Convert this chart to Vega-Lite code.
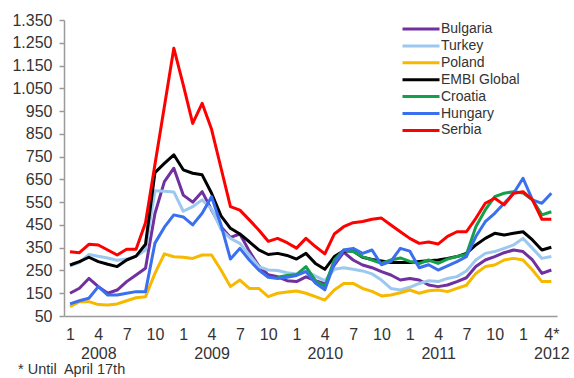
{
  "$schema": "https://vega.github.io/schema/vega-lite/v6.json",
  "width": 493,
  "height": 296,
  "autosize": {"type": "none"},
  "padding": {"left": 64, "top": 20, "right": 17, "bottom": 62},
  "background": "white",
  "config": {"view": {"stroke": null}, "font": "Liberation Sans"},
  "title": {"text": "* Until\u00a0 April 17th", "orient": "bottom", "anchor": "start", "frame": "group", "dx": -46, "offset": 2, "fontSize": 14.5, "fontWeight": "normal", "color": "#333333"},
  "datasets": {
    "spreads": [
      {"m":0,"s":"Bulgaria","v":150},{"m":1,"s":"Bulgaria","v":172},{"m":2,"s":"Bulgaria","v":215},{"m":3,"s":"Bulgaria","v":179},{"m":4,"s":"Bulgaria","v":150},{"m":5,"s":"Bulgaria","v":164},{"m":6,"s":"Bulgaria","v":201},{"m":7,"s":"Bulgaria","v":230},{"m":8,"s":"Bulgaria","v":260},{"m":9,"s":"Bulgaria","v":500},{"m":10,"s":"Bulgaria","v":640},{"m":11,"s":"Bulgaria","v":699},{"m":12,"s":"Bulgaria","v":581},{"m":13,"s":"Bulgaria","v":550},{"m":14,"s":"Bulgaria","v":596},{"m":15,"s":"Bulgaria","v":516},{"m":16,"s":"Bulgaria","v":442},{"m":17,"s":"Bulgaria","v":395},{"m":18,"s":"Bulgaria","v":410},{"m":19,"s":"Bulgaria","v":335},{"m":20,"s":"Bulgaria","v":270},{"m":21,"s":"Bulgaria","v":231},{"m":22,"s":"Bulgaria","v":222},{"m":23,"s":"Bulgaria","v":205},{"m":24,"s":"Bulgaria","v":201},{"m":25,"s":"Bulgaria","v":222},{"m":26,"s":"Bulgaria","v":205},{"m":27,"s":"Bulgaria","v":192},{"m":28,"s":"Bulgaria","v":274},{"m":29,"s":"Bulgaria","v":330},{"m":30,"s":"Bulgaria","v":296},{"m":31,"s":"Bulgaria","v":274},{"m":32,"s":"Bulgaria","v":262},{"m":33,"s":"Bulgaria","v":245},{"m":34,"s":"Bulgaria","v":230},{"m":35,"s":"Bulgaria","v":208},{"m":36,"s":"Bulgaria","v":215},{"m":37,"s":"Bulgaria","v":208},{"m":38,"s":"Bulgaria","v":186},{"m":39,"s":"Bulgaria","v":179},{"m":40,"s":"Bulgaria","v":186},{"m":41,"s":"Bulgaria","v":201},{"m":42,"s":"Bulgaria","v":218},{"m":43,"s":"Bulgaria","v":267},{"m":44,"s":"Bulgaria","v":296},{"m":45,"s":"Bulgaria","v":311},{"m":46,"s":"Bulgaria","v":328},{"m":47,"s":"Bulgaria","v":340},{"m":48,"s":"Bulgaria","v":333},{"m":49,"s":"Bulgaria","v":296},{"m":50,"s":"Bulgaria","v":237},{"m":51,"s":"Bulgaria","v":252},
      {"m":0,"s":"Turkey","v":270},{"m":1,"s":"Turkey","v":285},{"m":2,"s":"Turkey","v":320},{"m":3,"s":"Turkey","v":312},{"m":4,"s":"Turkey","v":305},{"m":5,"s":"Turkey","v":295},{"m":6,"s":"Turkey","v":300},{"m":7,"s":"Turkey","v":312},{"m":8,"s":"Turkey","v":340},{"m":9,"s":"Turkey","v":600},{"m":10,"s":"Turkey","v":598},{"m":11,"s":"Turkey","v":595},{"m":12,"s":"Turkey","v":510},{"m":13,"s":"Turkey","v":530},{"m":14,"s":"Turkey","v":560},{"m":15,"s":"Turkey","v":520},{"m":16,"s":"Turkey","v":430},{"m":17,"s":"Turkey","v":391},{"m":18,"s":"Turkey","v":369},{"m":19,"s":"Turkey","v":318},{"m":20,"s":"Turkey","v":267},{"m":21,"s":"Turkey","v":252},{"m":22,"s":"Turkey","v":250},{"m":23,"s":"Turkey","v":240},{"m":24,"s":"Turkey","v":235},{"m":25,"s":"Turkey","v":248},{"m":26,"s":"Turkey","v":225},{"m":27,"s":"Turkey","v":205},{"m":28,"s":"Turkey","v":255},{"m":29,"s":"Turkey","v":262},{"m":30,"s":"Turkey","v":255},{"m":31,"s":"Turkey","v":248},{"m":32,"s":"Turkey","v":235},{"m":33,"s":"Turkey","v":208},{"m":34,"s":"Turkey","v":171},{"m":35,"s":"Turkey","v":164},{"m":36,"s":"Turkey","v":176},{"m":37,"s":"Turkey","v":193},{"m":38,"s":"Turkey","v":205},{"m":39,"s":"Turkey","v":201},{"m":40,"s":"Turkey","v":215},{"m":41,"s":"Turkey","v":223},{"m":42,"s":"Turkey","v":248},{"m":43,"s":"Turkey","v":296},{"m":44,"s":"Turkey","v":325},{"m":45,"s":"Turkey","v":333},{"m":46,"s":"Turkey","v":347},{"m":47,"s":"Turkey","v":362},{"m":48,"s":"Turkey","v":391},{"m":49,"s":"Turkey","v":347},{"m":50,"s":"Turkey","v":303},{"m":51,"s":"Turkey","v":311},
      {"m":0,"s":"Poland","v":91},{"m":1,"s":"Poland","v":113},{"m":2,"s":"Poland","v":113},{"m":3,"s":"Poland","v":100},{"m":4,"s":"Poland","v":98},{"m":5,"s":"Poland","v":103},{"m":6,"s":"Poland","v":117},{"m":7,"s":"Poland","v":130},{"m":8,"s":"Poland","v":135},{"m":9,"s":"Poland","v":237},{"m":10,"s":"Poland","v":323},{"m":11,"s":"Poland","v":310},{"m":12,"s":"Poland","v":308},{"m":13,"s":"Poland","v":303},{"m":14,"s":"Poland","v":318},{"m":15,"s":"Poland","v":318},{"m":16,"s":"Poland","v":252},{"m":17,"s":"Poland","v":179},{"m":18,"s":"Poland","v":208},{"m":19,"s":"Poland","v":171},{"m":20,"s":"Poland","v":171},{"m":21,"s":"Poland","v":135},{"m":22,"s":"Poland","v":150},{"m":23,"s":"Poland","v":155},{"m":24,"s":"Poland","v":160},{"m":25,"s":"Poland","v":150},{"m":26,"s":"Poland","v":135},{"m":27,"s":"Poland","v":120},{"m":28,"s":"Poland","v":164},{"m":29,"s":"Poland","v":193},{"m":30,"s":"Poland","v":193},{"m":31,"s":"Poland","v":171},{"m":32,"s":"Poland","v":158},{"m":33,"s":"Poland","v":138},{"m":34,"s":"Poland","v":142},{"m":35,"s":"Poland","v":152},{"m":36,"s":"Poland","v":164},{"m":37,"s":"Poland","v":150},{"m":38,"s":"Poland","v":161},{"m":39,"s":"Poland","v":164},{"m":40,"s":"Poland","v":157},{"m":41,"s":"Poland","v":171},{"m":42,"s":"Poland","v":185},{"m":43,"s":"Poland","v":237},{"m":44,"s":"Poland","v":267},{"m":45,"s":"Poland","v":274},{"m":46,"s":"Poland","v":296},{"m":47,"s":"Poland","v":303},{"m":48,"s":"Poland","v":296},{"m":49,"s":"Poland","v":252},{"m":50,"s":"Poland","v":201},{"m":51,"s":"Poland","v":201},
      {"m":0,"s":"EMBI Global","v":274},{"m":1,"s":"EMBI Global","v":289},{"m":2,"s":"EMBI Global","v":308},{"m":3,"s":"EMBI Global","v":289},{"m":4,"s":"EMBI Global","v":277},{"m":5,"s":"EMBI Global","v":267},{"m":6,"s":"EMBI Global","v":296},{"m":7,"s":"EMBI Global","v":313},{"m":8,"s":"EMBI Global","v":365},{"m":9,"s":"EMBI Global","v":680},{"m":10,"s":"EMBI Global","v":720},{"m":11,"s":"EMBI Global","v":758},{"m":12,"s":"EMBI Global","v":692},{"m":13,"s":"EMBI Global","v":677},{"m":14,"s":"EMBI Global","v":670},{"m":15,"s":"EMBI Global","v":589},{"m":16,"s":"EMBI Global","v":490},{"m":17,"s":"EMBI Global","v":435},{"m":18,"s":"EMBI Global","v":410},{"m":19,"s":"EMBI Global","v":376},{"m":20,"s":"EMBI Global","v":340},{"m":21,"s":"EMBI Global","v":320},{"m":22,"s":"EMBI Global","v":325},{"m":23,"s":"EMBI Global","v":316},{"m":24,"s":"EMBI Global","v":300},{"m":25,"s":"EMBI Global","v":325},{"m":26,"s":"EMBI Global","v":281},{"m":27,"s":"EMBI Global","v":255},{"m":28,"s":"EMBI Global","v":311},{"m":29,"s":"EMBI Global","v":336},{"m":30,"s":"EMBI Global","v":335},{"m":31,"s":"EMBI Global","v":308},{"m":32,"s":"EMBI Global","v":298},{"m":33,"s":"EMBI Global","v":292},{"m":34,"s":"EMBI Global","v":285},{"m":35,"s":"EMBI Global","v":285},{"m":36,"s":"EMBI Global","v":285},{"m":37,"s":"EMBI Global","v":289},{"m":38,"s":"EMBI Global","v":293},{"m":39,"s":"EMBI Global","v":296},{"m":40,"s":"EMBI Global","v":303},{"m":41,"s":"EMBI Global","v":311},{"m":42,"s":"EMBI Global","v":325},{"m":43,"s":"EMBI Global","v":362},{"m":44,"s":"EMBI Global","v":391},{"m":45,"s":"EMBI Global","v":413},{"m":46,"s":"EMBI Global","v":406},{"m":47,"s":"EMBI Global","v":413},{"m":48,"s":"EMBI Global","v":420},{"m":49,"s":"EMBI Global","v":384},{"m":50,"s":"EMBI Global","v":340},{"m":51,"s":"EMBI Global","v":352},
      {"m":22,"s":"Croatia","v":220},{"m":23,"s":"Croatia","v":228},{"m":24,"s":"Croatia","v":232},{"m":25,"s":"Croatia","v":267},{"m":26,"s":"Croatia","v":205},{"m":27,"s":"Croatia","v":180},{"m":28,"s":"Croatia","v":296},{"m":29,"s":"Croatia","v":340},{"m":30,"s":"Croatia","v":333},{"m":31,"s":"Croatia","v":310},{"m":32,"s":"Croatia","v":296},{"m":33,"s":"Croatia","v":281},{"m":34,"s":"Croatia","v":296},{"m":35,"s":"Croatia","v":305},{"m":36,"s":"Croatia","v":290},{"m":37,"s":"Croatia","v":280},{"m":38,"s":"Croatia","v":296},{"m":39,"s":"Croatia","v":281},{"m":40,"s":"Croatia","v":300},{"m":41,"s":"Croatia","v":311},{"m":42,"s":"Croatia","v":320},{"m":43,"s":"Croatia","v":442},{"m":44,"s":"Croatia","v":516},{"m":45,"s":"Croatia","v":574},{"m":46,"s":"Croatia","v":589},{"m":47,"s":"Croatia","v":596},{"m":48,"s":"Croatia","v":590},{"m":49,"s":"Croatia","v":560},{"m":50,"s":"Croatia","v":494},{"m":51,"s":"Croatia","v":508},
      {"m":0,"s":"Hungary","v":103},{"m":1,"s":"Hungary","v":117},{"m":2,"s":"Hungary","v":128},{"m":3,"s":"Hungary","v":179},{"m":4,"s":"Hungary","v":142},{"m":5,"s":"Hungary","v":142},{"m":6,"s":"Hungary","v":150},{"m":7,"s":"Hungary","v":157},{"m":8,"s":"Hungary","v":157},{"m":9,"s":"Hungary","v":370},{"m":10,"s":"Hungary","v":440},{"m":11,"s":"Hungary","v":494},{"m":12,"s":"Hungary","v":485},{"m":13,"s":"Hungary","v":450},{"m":14,"s":"Hungary","v":501},{"m":15,"s":"Hungary","v":574},{"m":16,"s":"Hungary","v":450},{"m":17,"s":"Hungary","v":300},{"m":18,"s":"Hungary","v":347},{"m":19,"s":"Hungary","v":296},{"m":20,"s":"Hungary","v":252},{"m":21,"s":"Hungary","v":220},{"m":22,"s":"Hungary","v":215},{"m":23,"s":"Hungary","v":220},{"m":24,"s":"Hungary","v":228},{"m":25,"s":"Hungary","v":245},{"m":26,"s":"Hungary","v":195},{"m":27,"s":"Hungary","v":165},{"m":28,"s":"Hungary","v":281},{"m":29,"s":"Hungary","v":340},{"m":30,"s":"Hungary","v":347},{"m":31,"s":"Hungary","v":325},{"m":32,"s":"Hungary","v":340},{"m":33,"s":"Hungary","v":275},{"m":34,"s":"Hungary","v":290},{"m":35,"s":"Hungary","v":347},{"m":36,"s":"Hungary","v":335},{"m":37,"s":"Hungary","v":262},{"m":38,"s":"Hungary","v":275},{"m":39,"s":"Hungary","v":252},{"m":40,"s":"Hungary","v":270},{"m":41,"s":"Hungary","v":289},{"m":42,"s":"Hungary","v":311},{"m":43,"s":"Hungary","v":399},{"m":44,"s":"Hungary","v":464},{"m":45,"s":"Hungary","v":501},{"m":46,"s":"Hungary","v":545},{"m":47,"s":"Hungary","v":589},{"m":48,"s":"Hungary","v":655},{"m":49,"s":"Hungary","v":560},{"m":50,"s":"Hungary","v":545},{"m":51,"s":"Hungary","v":589},
      {"m":0,"s":"Serbia","v":332},{"m":1,"s":"Serbia","v":328},{"m":2,"s":"Serbia","v":365},{"m":3,"s":"Serbia","v":362},{"m":4,"s":"Serbia","v":340},{"m":5,"s":"Serbia","v":318},{"m":6,"s":"Serbia","v":343},{"m":7,"s":"Serbia","v":343},{"m":8,"s":"Serbia","v":460},{"m":9,"s":"Serbia","v":715},{"m":10,"s":"Serbia","v":970},{"m":11,"s":"Serbia","v":1226},{"m":12,"s":"Serbia","v":1065},{"m":13,"s":"Serbia","v":896},{"m":14,"s":"Serbia","v":984},{"m":15,"s":"Serbia","v":870},{"m":16,"s":"Serbia","v":700},{"m":17,"s":"Serbia","v":530},{"m":18,"s":"Serbia","v":515},{"m":19,"s":"Serbia","v":472},{"m":20,"s":"Serbia","v":428},{"m":21,"s":"Serbia","v":378},{"m":22,"s":"Serbia","v":391},{"m":23,"s":"Serbia","v":372},{"m":24,"s":"Serbia","v":348},{"m":25,"s":"Serbia","v":391},{"m":26,"s":"Serbia","v":355},{"m":27,"s":"Serbia","v":323},{"m":28,"s":"Serbia","v":410},{"m":29,"s":"Serbia","v":442},{"m":30,"s":"Serbia","v":460},{"m":31,"s":"Serbia","v":465},{"m":32,"s":"Serbia","v":475},{"m":33,"s":"Serbia","v":480},{"m":34,"s":"Serbia","v":450},{"m":35,"s":"Serbia","v":420},{"m":36,"s":"Serbia","v":391},{"m":37,"s":"Serbia","v":369},{"m":38,"s":"Serbia","v":375},{"m":39,"s":"Serbia","v":366},{"m":40,"s":"Serbia","v":400},{"m":41,"s":"Serbia","v":420},{"m":42,"s":"Serbia","v":420},{"m":43,"s":"Serbia","v":479},{"m":44,"s":"Serbia","v":545},{"m":45,"s":"Serbia","v":567},{"m":46,"s":"Serbia","v":538},{"m":47,"s":"Serbia","v":589},{"m":48,"s":"Serbia","v":596},{"m":49,"s":"Serbia","v":560},{"m":50,"s":"Serbia","v":475},{"m":51,"s":"Serbia","v":475}
    ]
  },
  "data": {"name": "spreads"},
  "mark": {"type": "line", "strokeJoin": "round"},
  "encoding": {
    "x": {
      "field": "m",
      "type": "quantitative",
      "scale": {"domain": [-0.636, 51.6], "nice": false, "zero": false},
      "axis": {
        "title": null,
        "values": [0, 3, 6, 9, 12, 15, 18, 21, 24, 27, 30, 33, 36, 39, 42, 45, 48, 51],
        "ticks": false,
        "grid": false,
        "domainColor": "#9a9a9a",
        "domainWidth": 1.5,
        "labelFontSize": 16,
        "labelColor": "#333333",
        "labelPadding": 10,
        "labelLineHeight": 19,
        "labelOverlap": false,
        "labelFlush": false,
        "labelExpr": "datum.value == 51 ? ['4*', '2012'] : (datum.value % 12 == 3 ? [toString(datum.value % 12 + 1), toString(2008 + floor(datum.value / 12))] : toString(datum.value % 12 + 1))"
      }
    },
    "y": {
      "field": "v",
      "type": "quantitative",
      "scale": {"domain": [50, 1350], "nice": false, "zero": false},
      "axis": {
        "title": null,
        "values": [50, 150, 250, 350, 450, 550, 650, 750, 850, 950, 1050, 1150, 1250, 1350],
        "grid": false,
        "tickSize": 5,
        "tickColor": "#9a9a9a",
        "tickWidth": 1.5,
        "domainColor": "#9a9a9a",
        "domainWidth": 1.5,
        "labelFontSize": 16,
        "labelColor": "#333333",
        "labelPadding": 7,
        "labelExpr": "replace(format(datum.value, ','), ',', '.')"
      }
    },
    "color": {
      "field": "s",
      "type": "nominal",
      "scale": {
        "domain": ["Bulgaria", "Turkey", "Poland", "EMBI Global", "Croatia", "Hungary", "Serbia"],
        "range": ["#7030a0", "#9cc8f0", "#f7b800", "#000000", "#14a04a", "#3a6ff0", "#ff0000"]
      },
      "legend": {"title": null, "orient": "none", "legendX": 350, "legendY": 2, "symbolType": "M-3.7,0H3.7", "symbolSize": 100, "labelFontSize": 14, "labelColor": "#333333", "labelOffset": 13, "rowPadding": 2.9}
    },
    "strokeWidth": {
      "field": "s",
      "type": "nominal",
      "scale": {
        "domain": ["Bulgaria", "Turkey", "Poland", "EMBI Global", "Croatia", "Hungary", "Serbia"],
        "range": [3, 3, 3, 3, 3, 3, 6]
      },
      "legend": {"title": null, "orient": "none", "legendX": 350, "legendY": 2, "symbolType": "M-3.7,0H3.7", "symbolSize": 100, "labelFontSize": 14, "labelColor": "#333333", "labelOffset": 13, "rowPadding": 2.9}
    }
  }
}
